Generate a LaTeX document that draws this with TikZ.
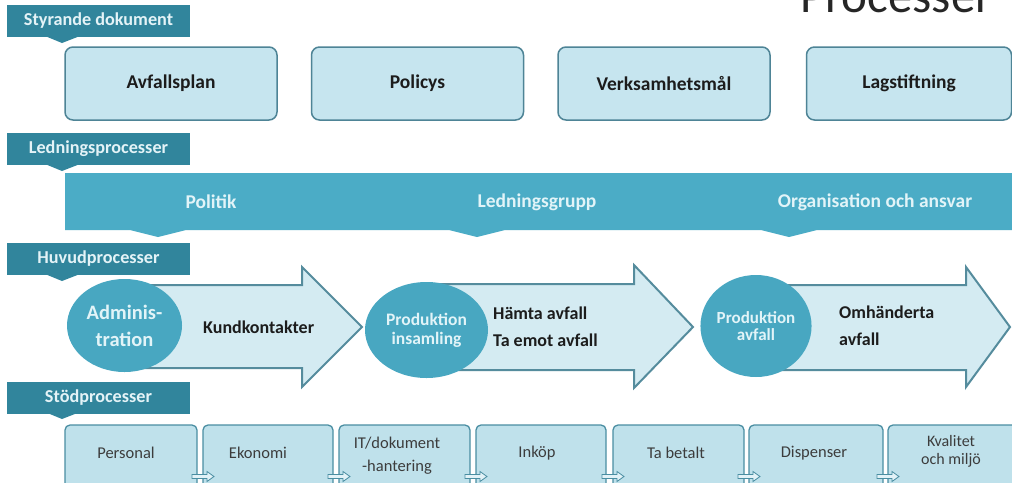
\documentclass[tikz,border=0pt]{standalone}
\usepackage{fontspec}
\setmainfont{Carlito}
\usetikzlibrary{shapes.geometric}
\definecolor{tabdark}{HTML}{31859C}
\definecolor{tabtext}{HTML}{E4F3F7}
\definecolor{banner}{HTML}{4BACC6}
\definecolor{boxfill}{HTML}{C6E5EF}
\definecolor{boxborder}{HTML}{4E8496}
\definecolor{arrowfill}{HTML}{D4EBF2}
\definecolor{arrowborder}{HTML}{558C9D}
\definecolor{circfill}{HTML}{48A7C1}
\definecolor{lighttext}{HTML}{E2F4F8}
\definecolor{darktext}{HTML}{1C1C1C}
\definecolor{graytext}{HTML}{3C3C3C}
\definecolor{stodfill}{HTML}{BFE1EB}
\definecolor{stodborder}{HTML}{4A8EA2}
\definecolor{smallarrow}{HTML}{E2F2F7}
\definecolor{titletext}{HTML}{262626}
\begin{document}
\begin{tikzpicture}[x=1pt,y=-1pt,
  tabbox/.style={fill=tabdark, draw=none, minimum width=183, minimum height=32, inner sep=0,
    text=tabtext, font=\fontsize{18.2}{21}\selectfont\bfseries},
  tabptr/.style={fill=tabdark, draw=none},
  docbox/.style={rounded corners=8, draw=boxborder, line width=1.5, fill=boxfill,
    minimum height=73, inner sep=0, text=darktext, font=\fontsize{19.5}{23}\selectfont\bfseries},
  bannertext/.style={text=lighttext, font=\fontsize{19.5}{23}\selectfont\bfseries, inner sep=0},
  bigarrow/.style={fill=arrowfill, draw=arrowborder, line width=2, line join=miter},
  circnode/.style={ellipse, fill=circfill, draw=none, inner sep=0, text=lighttext, align=center},
  arrowtext/.style={text=darktext, font=\fontsize{18}{27}\selectfont\bfseries, inner sep=0},
  stodbox/.style={rounded corners=5, draw=stodborder, line width=1.3, fill=stodfill},
  stodtext/.style={text=graytext, font=\fontsize{16.5}{19}\selectfont, inner sep=0, align=center},
  smallarr/.style={fill=smallarrow, draw=stodborder, line width=0.8, line join=miter}
]
\useasboundingbox (0,0) rectangle (1012,482);
\clip (0,0) rectangle (1012,482);
\fill[white] (0,0) rectangle (1012,482);

% Title (cut by the top edge, as in the reference)
\node[anchor=base west, inner sep=0, text=titletext, font=\fontsize{49}{55}\selectfont] (title) at (800,12) {Processer};

% ---------- Styrande dokument ----------
\fill[tabptr] (45,36) -- (62,43) -- (80,36) -- cycle;
\node[tabbox] (tab1) at (98.5,21) {Styrande dokument};

\node[docbox, minimum width=212] (avfall) at (171,83.5) {Avfallsplan};
\node[docbox, minimum width=212] (policys) at (417.5,83.5) {Policys};
\node[docbox, minimum width=212] (verk) at (664,83.5) {Verksamhetsmål};
\node[docbox, minimum width=205] (lag) at (909,83.5) {Lagstiftning};

% ---------- Ledningsprocesser ----------
\fill[tabptr] (45,164) -- (62,171) -- (80,164) -- cycle;
\node[tabbox] (tab2) at (98.5,148.5) {Ledningsprocesser};

\fill[banner] (65,173) -- (1014,173) -- (1014,230)
  -- (817,230) -- (789,237) -- (761,230)
  -- (505,230) -- (477,237) -- (449,230)
  -- (186,230) -- (158,237) -- (130,230)
  -- (65,230) -- cycle;
\node[bannertext] (politik) at (211,202) {Politik};
\node[bannertext] (lgrupp) at (537,202) {Ledningsgrupp};
\node[bannertext] (org) at (875,202) {Organisation och ansvar};

% ---------- Huvudprocesser ----------
\fill[tabptr] (45,274) -- (62,281) -- (80,274) -- cycle;
\node[tabbox] (tab3) at (98.5,258.5) {Huvudprocesser};

% big arrows
\draw[bigarrow] (124,285) -- (302,285) -- (302,267) -- (362,327) -- (302,387) -- (302,368) -- (124,368) -- cycle;
\draw[bigarrow] (427,284) -- (634,284) -- (634,265) -- (693,327) -- (634,388) -- (634,370) -- (427,370) -- cycle;
\draw[bigarrow] (756,285) -- (966,285) -- (966,267) -- (1010,327) -- (966,387) -- (966,370) -- (756,370) -- cycle;

\node[circnode, minimum width=115, minimum height=93,
  font=\fontsize{20.5}{27}\selectfont\bfseries] (admin) at (124.5,325.5) {Adminis-\\tration};
\node[circnode, minimum width=123, minimum height=96,
  font=\fontsize{17.5}{19}\selectfont\bfseries] (prodins) at (426.5,330) {Produktion\\insamling};
\node[circnode, minimum width=103, minimum height=102,
  font=\fontsize{17}{17}\selectfont\bfseries] (prodavf) at (756,326) {Produktion\\avfall};

\node[arrowtext, anchor=west] (kund) at (203,327) {Kundkontakter};
\node[arrowtext, anchor=north west, align=left] (hamta) at (493,307) {Hämta avfall\\Ta emot avfall};
\node[arrowtext, anchor=north west, align=left] (omh) at (839,306) {Omhänderta\\avfall};

% ---------- Stödprocesser ----------
\fill[tabptr] (45,412) -- (62,419) -- (80,412) -- cycle;
\node[tabbox] (tab4) at (98.5,397.5) {Stödprocesser};

\draw[stodbox] (65,500) |- (197,425) -- (197,500);
\draw[stodbox] (203,500) |- (333,425) -- (333,500);
\draw[stodbox] (339,500) |- (470,425) -- (470,500);
\draw[stodbox] (476,500) |- (606,425) -- (606,500);
\draw[stodbox] (613,500) |- (744,425) -- (744,500);
\draw[stodbox] (749,500) |- (883,425) -- (883,500);
\draw[stodbox] (888,500) |- (1030,425) -- (1030,500);

\foreach \L in {203,339,476,613,749,888}{
  \draw[smallarr] (\L-11,474.5) -- (\L+4,474.5) -- (\L+4,471.5) -- (\L+11,476.5)
    -- (\L+4,481.5) -- (\L+4,478.5) -- (\L-11,478.5) -- cycle;
}

\node[stodtext] (pers) at (126,453) {Personal};
\node[stodtext] (eko) at (258,453) {Ekonomi};
\node[stodtext, font=\fontsize{16.5}{23}\selectfont] (itdok) at (397,456) {IT/dokument\\-hantering};
\node[stodtext] (inkop) at (537,453) {Inköp};
\node[stodtext] (tabet) at (676,453) {Ta betalt};
\node[stodtext] (disp) at (814,453) {Dispenser};
\node[stodtext, font=\fontsize{16}{18}\selectfont] (kval) at (951,451) {Kvalitet\\och miljö};
\end{tikzpicture}
\end{document}
